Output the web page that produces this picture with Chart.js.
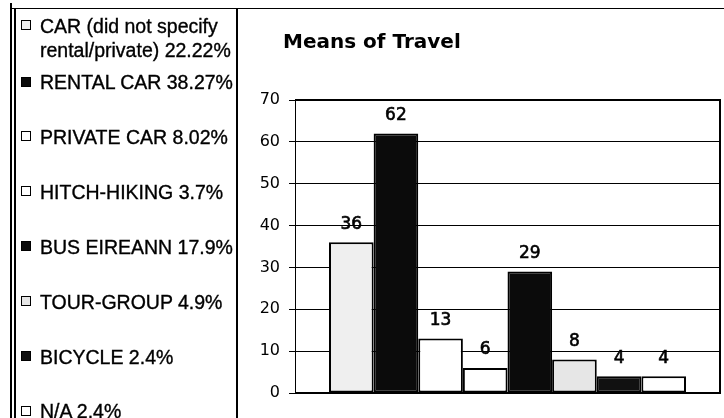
<!DOCTYPE html>
<html>
<head>
<meta charset="utf-8">
<title>Means of Travel</title>
<script src="https://cdn.jsdelivr.net/npm/chart.js@4/dist/chart.umd.min.js"></script>
<style>
  html, body { margin: 0; padding: 0; background: #fff; }
  body { width: 724px; height: 418px; position: relative; overflow: hidden;
         font-family: "Liberation Sans", Arial, sans-serif; color: #000; }
  #chart { position: absolute; left: 0; top: 0; }
  .rule { position: absolute; background: #000; }
  #title { position: absolute; left: 283px; top: 31px; font-family: "DejaVu Sans", sans-serif;
           font-size: 20px; line-height: 20px; font-weight: bold; white-space: nowrap; }
  .item { position: absolute; left: 40px; font-size: 19.5px; line-height: 24px;
          white-space: pre; -webkit-text-stroke: 0.35px #000; }
  .swatch { position: absolute; left: 21px; width: 8px; height: 8px;
            border: 1.5px solid #000; }
</style>
</head>
<body>
<canvas id="chart" width="724" height="418"></canvas>

<!-- frame lines around the legend panel -->
<div class="rule" style="left:10px;top:3px;width:1.5px;height:415px"></div>
<div class="rule" style="left:14px;top:8px;width:1.5px;height:410px"></div>
<div class="rule" style="left:10px;top:7.5px;width:714px;height:1.5px"></div>
<div class="rule" style="left:236px;top:8px;width:1.5px;height:410px"></div>

<div id="title">Means of Travel</div>
<div id="legend"></div>

<script>
// Means of travel: respondent counts and their share of all answers
const categories = [
  'CAR (did not specify\nrental/private)',
  'RENTAL CAR',
  'PRIVATE CAR',
  'HITCH-HIKING',
  'BUS EIREANN',
  'TOUR-GROUP',
  'BICYCLE',
  'N/A'
];
const counts = [36, 62, 13, 6, 29, 8, 4, 4];
const shares = ['22.22%', '38.27%', '8.02%', '3.7%', '17.9%', '4.9%', '2.4%', '2.4%'];
const yTickValues = [0, 10, 20, 30, 40, 50, 60, 70];
const fills = ['#efefef', '#0b0b0b', '#ffffff', '#ffffff', '#0b0b0b', '#e6e6e6', '#111111', '#ffffff'];

// Legend panel on the left
const legend = document.getElementById('legend');
categories.forEach((name, i) => {
  const center = i === 0 ? 25.5 : 82 + 54.9 * (i - 1);
  const text = document.createElement('div');
  text.className = 'item';
  text.style.top = (center - 12) + 'px';
  text.textContent = name + ' ' + shares[i];
  legend.appendChild(text);
  const sw = document.createElement('div');
  sw.className = 'swatch';
  sw.style.top = (center - 5.5) + 'px';
  sw.style.background = fills[i];
  legend.appendChild(sw);
});

// Border around the plot area
const plotFrame = {
  id: 'plotFrame',
  afterDatasetsDraw(chart) {
    const { ctx, chartArea: a } = chart;
    ctx.save();
    ctx.strokeStyle = '#000';
    ctx.lineWidth = 2;
    ctx.beginPath();
    ctx.moveTo(a.left, a.top);
    ctx.lineTo(a.right, a.top);
    ctx.lineTo(a.right, a.bottom);
    ctx.lineTo(a.left, a.bottom);
    ctx.stroke();
    ctx.restore();
  }
};

// Count written above each bar
const valueLabels = {
  id: 'valueLabels',
  afterDatasetsDraw(chart) {
    const { ctx } = chart;
    ctx.save();
    ctx.fillStyle = '#000';
    ctx.strokeStyle = '#000';
    ctx.lineWidth = 0.6;
    ctx.font = '17px "DejaVu Sans"';
    ctx.textAlign = 'center';
    ctx.textBaseline = 'alphabetic';
    chart.data.datasets.forEach((ds, i) => {
      const bar = chart.getDatasetMeta(i).data[0];
      const txt = String(ds.data[0]);
      ctx.fillText(txt, bar.x, bar.y - 13.5);
      ctx.strokeText(txt, bar.x, bar.y - 13.5);
    });
    ctx.restore();
  }
};

new Chart(document.getElementById('chart'), {
  type: 'bar',
  data: {
    labels: [''],
    datasets: categories.map((name, i) => ({
      label: name,
      data: [counts[i]],
      backgroundColor: fills[i],
      borderColor: '#000',
      borderWidth: 2,
      borderSkipped: false
    }))
  },
  options: {
    responsive: false,
    animation: false,
    devicePixelRatio: 1,
    layout: { padding: { left: 250, top: 100, right: 4, bottom: 25 } },
    datasets: { bar: { categoryPercentage: 0.84, barPercentage: 1.0 } },
    plugins: {
      legend: { display: false },
      title: { display: false },
      tooltip: { enabled: false }
    },
    scales: {
      x: { display: false },
      y: {
        min: 0,
        max: 70,
        afterBuildTicks: s => { s.ticks = yTickValues.map(v => ({ value: v })); },
        afterFit: s => { s.width = 45; },
        ticks: { color: '#000', padding: 9, font: { family: 'DejaVu Sans', size: 16 } },
        grid: { color: '#000', lineWidth: 1, tickLength: 6, drawTicks: true },
        border: { display: true, color: '#000', width: 1 }
      }
    }
  },
  plugins: [plotFrame, valueLabels]
});
</script>
</body>
</html>
